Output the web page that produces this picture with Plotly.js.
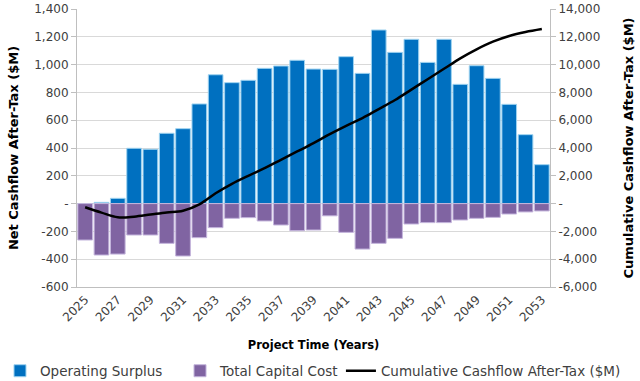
<!DOCTYPE html>
<html>
<head>
<meta charset="utf-8">
<script src="https://cdn.plot.ly/plotly-3.0.1.min.js"></script>
<style>html,body{margin:0;padding:0;background:#fff;}#chart{width:640px;height:381px;}</style>
</head>
<body>
<div id="chart"></div>
<script>
const years = [2025,2026,2027,2028,2029,2030,2031,2032,2033,2034,2035,2036,2037,2038,2039,2040,2041,2042,2043,2044,2045,2046,2047,2048,2049,2050,2051,2052,2053];
const operatingSurplus = [0,9,38,398,391,506,539,717,927,870,887,973,990,1031,968,966,1057,937,1249,1088,1182,1016,1182,858,992,901,714,496,280];
const totalCapitalCost = [-262,-370,-363,-226,-226,-286,-377,-245,-173,-106,-101,-125,-154,-195,-190,-88,-207,-327,-286,-250,-147,-137,-137,-118,-106,-99,-75,-60,-53];
const cumulativeCashflow = [-266,-650,-985,-940,-790,-640,-520,-60,740,1420,2000,2550,3150,3750,4350,5000,5600,6150,6800,7450,8200,8950,9700,10450,11100,11650,12060,12345,12560];
const xTickVals = [2025,2027,2029,2031,2033,2035,2037,2039,2041,2043,2045,2047,2049,2051,2053];
const leftTickVals = [-600,-400,-200,0,200,400,600,800,1000,1200,1400];
const leftTickText = ['-600','-400','-200','-','200','400','600','800','1,000','1,200','1,400'];
const rightTickVals = [-6000,-4000,-2000,0,2000,4000,6000,8000,10000,12000,14000];
const rightTickText = ['-6,000','-4,000','-2,000','-','2,000','4,000','6,000','8,000','10,000','12,000','14,000'];

const font = 'DejaVu Sans, sans-serif';
const legendFont = {family:font, size:13.5, color:'#404040'};
const data = [
  {type:'bar', name:'Operating Surplus', x:years, y:operatingSurplus, legend:'legend',
   marker:{color:'#0070C0', line:{color:'#9fd3f0', width:1}}},
  {type:'bar', name:'Total Capital Cost', x:years, y:totalCapitalCost, legend:'legend2',
   marker:{color:'#8064A2', line:{color:'#c4b5dc', width:1}}},
  {type:'scatter', mode:'lines', name:'Cumulative Cashflow After-Tax ($M)', x:years, y:cumulativeCashflow,
   yaxis:'y2', legend:'legend3', line:{color:'#000000', width:2.5, shape:'spline', smoothing:1}}
];
const legendBase = {orientation:'h', xanchor:'left', y:-0.302, yanchor:'middle', font:legendFont, itemwidth:30, bgcolor:'rgba(0,0,0,0)'};
const layout = {
  width:640, height:381,
  margin:{l:77, r:90, t:9, b:94, autoexpand:false},
  paper_bgcolor:'#fff', plot_bgcolor:'#fff',
  barmode:'relative', bargap:0.1,
  font:{family:font, size:12, color:'#404040'},
  showlegend:true,
  legend:Object.assign({}, legendBase, {x:-0.1628}),
  legend2:Object.assign({}, legendBase, {x:0.2178}),
  legend3:Object.assign({}, legendBase, {x:0.558}),
  xaxis:{range:[2024.5,2053.5], tickvals:xTickVals, tickangle:-45, showgrid:false, zeroline:false, automargin:false,
         showline:true, linecolor:'#bfbfbf', linewidth:1, ticks:'', tickfont:{size:12, color:'#404040'},
         title:{text:'Project Time (Years)', font:{family:font, size:11.5, color:'#000', weight:'bold'}, standoff:17}},
  yaxis:{range:[-600,1400], tickvals:leftTickVals, ticktext:leftTickText, showgrid:true, gridcolor:'#d9d9d9', automargin:false,
         zeroline:false, showline:true, linecolor:'#bfbfbf', linewidth:1, ticks:'outside', ticklen:5, tickcolor:'#bfbfbf',
         tickfont:{size:12, color:'#404040'},
         title:{text:'Net Cashflow After-Tax ($M)', font:{family:font, size:13, color:'#000', weight:'bold'}, standoff:12}},
  yaxis2:{range:[-6000,14000], overlaying:'y', side:'right', tickvals:rightTickVals, ticktext:rightTickText, automargin:false,
         showgrid:false, zeroline:false, showline:true, linecolor:'#bfbfbf', linewidth:1, ticks:'outside', ticklen:5, tickcolor:'#bfbfbf',
         tickfont:{size:12, color:'#404040'},
         title:{text:'Cumulative Cashflow After-Tax ($M)', font:{family:font, size:13, color:'#000', weight:'bold'}, standoff:24}}
};
Plotly.newPlot('chart', data, layout, {displayModeBar:false, staticPlot:true});
</script>
</body>
</html>
